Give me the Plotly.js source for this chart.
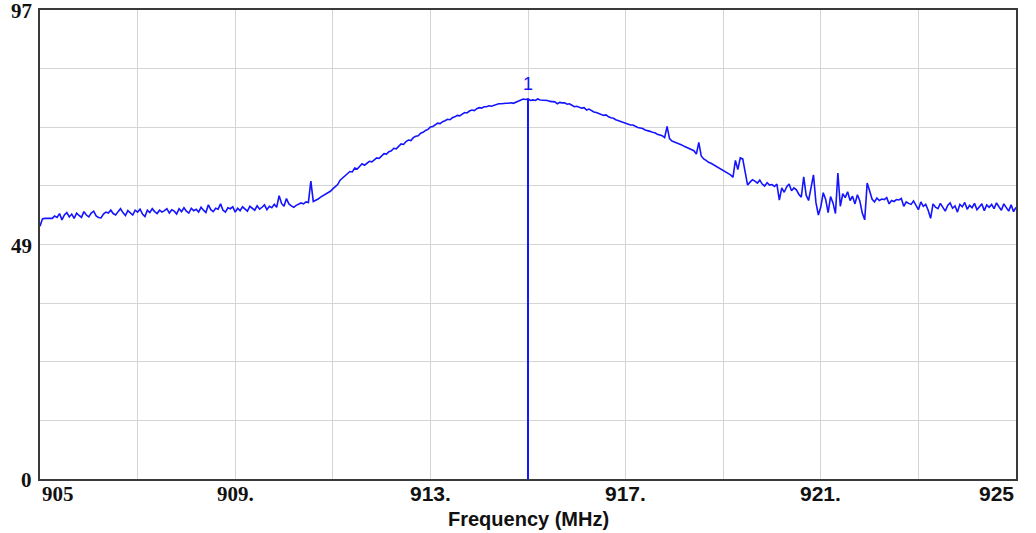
<!DOCTYPE html>
<html><head><meta charset="utf-8">
<script src="https://cdn.plot.ly/plotly-3.0.1.min.js"></script>
<style>html,body{margin:0;padding:0;background:#fff;overflow:hidden}</style>
</head><body><div id="chart" style="width:1036px;height:533px"></div>
<script>
// Sweep definition
const freqStart = 905;
const freqStep = 0.05;

const levels = [
  // 905.00 - 908.95
  52.3, 53.8, 53.9, 53.9, 54.0, 53.9, 54.4, 54.1, 54.9, 53.6, 54.6, 55.1, 54.2, 54.8, 53.9, 55.0, 54.5, 54.1, 55.3, 54.6,
  54.2, 55.0, 55.4, 54.4, 54.1, 54.0, 54.8, 55.2, 55.0, 55.6, 54.9, 54.6, 55.3, 55.9, 55.1, 54.5, 55.5, 55.0, 54.6, 55.6,
  55.2, 55.8, 54.8, 54.3, 55.6, 55.1, 55.9, 55.3, 54.9, 55.6, 55.2, 55.5, 55.9, 55.0, 55.7, 55.4, 54.8, 55.9, 55.3, 56.1,
  55.4, 55.0, 56.0, 55.5, 55.8, 55.2, 56.2, 55.6, 55.1, 56.7, 55.7, 55.3, 56.0, 55.8, 56.9, 55.6, 55.2, 56.1, 55.9, 56.3,
  // 909.00 - 910.95
  55.2, 56.0, 55.5, 56.3, 55.9, 55.4, 56.4, 56.0, 55.6, 56.5,
  55.8, 56.2, 56.7, 55.7, 56.4, 56.1, 56.8, 56.2, 58.6, 57.0,
  56.4, 58.0, 56.9, 56.5, 56.2, 56.6, 56.9, 57.1, 56.9, 57.3,
  57.2, 61.6, 57.4, 57.6, 57.9, 58.3, 58.6, 58.9, 59.2, 59.5,
  // 911.00 - 912.95
  60.0, 60.4, 60.9, 61.8, 62.3, 62.8, 63.2, 63.6, 63.5, 64.3,
  64.1, 64.6, 65.2, 64.9, 65.4, 65.7, 65.6, 66.1, 66.4, 66.3,
  66.9, 67.3, 67.2, 67.7, 67.9, 68.4, 68.3, 68.8, 69.3, 69.2,
  69.8, 70.1, 70.0, 70.6, 70.9, 71.0, 71.5, 71.7, 72.1, 72.3,
  // 913.00 - 914.95
  72.8, 72.9, 73.3, 73.6, 73.5, 73.9, 74.1, 74.4, 74.3, 74.7,
  74.9, 75.2, 75.1, 75.5, 75.8, 75.7, 76.1, 76.3, 76.2, 76.6,
  76.8, 76.7, 77.0, 77.0, 77.2, 77.1, 77.3, 77.4, 77.6, 77.6,
  77.7, 77.7, 77.7, 77.8, 77.7, 77.9, 78.2, 78.4, 78.6, 78.5,
  // 915.00 - 916.95
  78.6, 78.3, 78.4, 78.3, 78.6, 78.4, 78.4, 78.3, 78.3, 78.1,
  78.1, 78.0, 77.6, 77.9, 77.8, 77.8, 77.5, 77.6, 77.3, 77.0,
  77.1, 76.9, 76.7, 76.8, 76.3, 76.5, 76.2, 75.9, 75.8, 75.6,
  75.5, 75.2, 75.3, 74.9, 74.7, 74.6, 74.3, 74.1, 73.9, 73.8,
  // 917.00 - 918.95
  73.6, 73.4, 73.2, 73.2, 72.9, 72.7, 72.6, 72.5, 72.2, 72.1,
  71.9, 71.7, 71.6, 71.3, 71.1, 71.0, 70.6, 72.9, 70.4, 69.9,
  69.7, 69.5, 69.4, 69.1, 68.8, 68.6, 68.4, 68.2, 67.9, 67.2,
  69.6, 66.8, 66.2, 65.9, 65.5, 65.3, 65.0, 64.7, 64.4, 64.1,
  // 919.00 - 920.95
  63.8, 63.5, 63.2, 62.9, 62.4, 65.9, 64.0, 66.4, 66.2, 63.8,
  60.8, 61.4, 61.9, 61.6, 61.2, 61.8, 61.0, 60.6, 61.3, 60.8,
  60.9, 60.5, 61.0, 57.7, 60.2, 59.3, 60.4, 61.0, 59.6, 60.2,
  59.8, 58.9, 58.3, 62.5, 58.7, 57.6, 60.3, 62.9, 57.2, 54.6,
  // 921.00 - 922.95
  56.3, 59.2, 57.8, 55.1, 58.4, 57.1, 54.9, 63.3, 56.4, 59.0,
  58.2, 59.4, 57.6, 58.5, 56.9, 58.8, 57.5, 55.0, 53.6, 61.2,
  59.6, 57.9, 57.3, 58.1, 57.6, 57.9, 57.8, 58.2, 56.9, 57.6,
  57.4, 57.8, 57.7, 58.0, 56.4, 57.3, 57.0, 56.8, 57.5, 56.6,
  // 923.00 - 925.00
  55.7, 57.3, 56.4, 56.8, 55.6, 53.9, 56.9, 56.2, 55.9, 57.0,
  56.1, 55.4, 56.6, 57.1, 56.0, 56.5, 55.2, 56.8, 56.3, 57.2,
  55.8, 56.6, 56.1, 57.0, 55.7, 56.4, 56.9, 55.5, 56.7, 56.2,
  56.8, 55.9, 57.1, 56.3, 55.6, 56.9, 56.0, 55.4, 56.7, 55.3, 56.2
];

// Axes
const xRange = [905, 925];
const yRange = [0, 97];
const xGridVals = [905, 907, 909, 911, 913, 915, 917, 919, 921, 923, 925];
const xLabelVals = [905, 909, 913, 917, 921, 925];
const xLabelText = ["905", "909.", "913.", "917.", "921.", "925"];
const yGridVals = [0, 12.125, 24.25, 36.375, 48.5, 60.625, 72.75, 84.875, 97];
const yLabelVals = [0, 48.5, 97];
const yLabelText = ["0", "49", "97"];
const xTitle = "Frequency (MHz)";
const yTitle = "Level (dBµV/m)";

// Marker
const markerFreq = 915.0;
const markerName = "1";

const freqs = levels.map((_, i) => +(freqStart + i * freqStep).toFixed(2));
const markerLevel = levels[freqs.indexOf(markerFreq)];

const blue = "rgb(20,20,255)";
const serif = "Liberation Serif, Times New Roman, serif";
const narrow = "Liberation Sans Narrow, Arial Narrow, Liberation Sans, sans-serif";

const traces = [
  {x: freqs, y: levels, type: "scatter", mode: "lines",
   line: {color: blue, width: 1.6}, hoverinfo: "skip"},
  {x: [markerFreq, markerFreq], y: [yRange[0], markerLevel], type: "scatter", mode: "lines",
   line: {color: blue, width: 2}, hoverinfo: "skip"}
];

const annotations = xLabelVals.map((v, i) => ({
  x: v, xref: "x", y: 0, yref: "paper", yanchor: "top", yshift: -1,
  xanchor: i === 0 ? "left" : (i === xLabelVals.length - 1 ? "right" : "center"),
  text: xLabelText[i], showarrow: false,
  font: i < 2 ? {family: serif, size: 21, color: "#111", weight: "bold"}
               : {family: narrow, size: 21, color: "#111", weight: "bold"}
}));
yLabelVals.forEach((v, i) => annotations.push({
  x: 0, xref: "paper", xanchor: "right", xshift: -6,
  y: v, yref: "y", yanchor: "middle", yshift: -1,
  text: yLabelText[i], showarrow: false,
  font: {family: serif, size: 21, color: "#111", weight: "bold"}
}));
annotations.push({
  x: 0.5, xref: "paper", y: 0, yref: "paper", yanchor: "top", yshift: -27,
  text: xTitle, showarrow: false,
  font: {family: narrow, size: 20, color: "#111", weight: "bold"}
});
annotations.push({
  x: markerFreq, xref: "x", y: markerLevel, yref: "y", yanchor: "bottom", yshift: 3,
  text: markerName, showarrow: false,
  font: {family: "Liberation Sans, Arial, sans-serif", size: 18, color: blue}
});
annotations.push({
  x: 0, xref: "paper", xshift: 8, y: 1, yref: "paper", yanchor: "bottom", yshift: 8,
  xanchor: "left", text: yTitle, showarrow: false,
  font: {family: narrow, size: 20, color: "#111", weight: "bold"}
});

const layout = {
  width: 1036, height: 533,
  margin: {l: 40, r: 20, t: 10, b: 54, pad: 0},
  paper_bgcolor: "#fff", plot_bgcolor: "#fff",
  showlegend: false,
  xaxis: {
    range: xRange, tickvals: xGridVals, showticklabels: false,
    showgrid: true, gridcolor: "#d4d4d4", gridwidth: 1,
    showline: true, linecolor: "#3a3a3a", linewidth: 2, mirror: true,
    zeroline: false, ticks: "", fixedrange: true
  },
  yaxis: {
    range: yRange, tickvals: yGridVals, showticklabels: false,
    showgrid: true, gridcolor: "#d4d4d4", gridwidth: 1,
    showline: true, linecolor: "#3a3a3a", linewidth: 2, mirror: true,
    zeroline: false, ticks: "", fixedrange: true
  },
  annotations: annotations
};

Plotly.newPlot("chart", traces, layout, {staticPlot: true, displayModeBar: false});
</script></body></html>
